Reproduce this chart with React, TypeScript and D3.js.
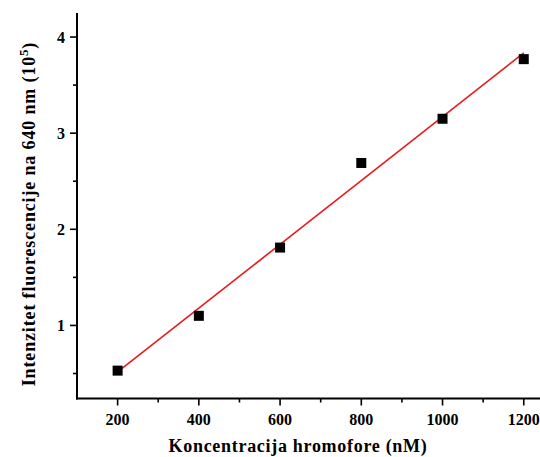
import React from "react";
import * as d3 from "d3";

const concentrations = [200, 400, 600, 800, 1000, 1200];
const intensities = [0.53, 1.1, 1.81, 2.69, 3.15, 3.77];
const xTicks = [200, 400, 600, 800, 1000, 1200];
const xMinorTicks = [300, 500, 700, 900, 1100];
const yTicks = [1, 2, 3, 4];
const yMinorTicks = [0.5, 1.5, 2.5, 3.5];

const W = 540;
const H = 457;
const FONT = "'Liberation Serif', 'Times New Roman', serif";

export default function App() {
  const x = d3.scaleLinear().domain([100, 1240]).range([77, 540]);
  const y = d3.scaleLinear().domain([0.24, 4.25]).range([398.5, 13]);

  const n = concentrations.length;
  const mx = d3.mean(concentrations)!;
  const my = d3.mean(intensities)!;
  let sxy = 0, sxx = 0;
  for (let i = 0; i < n; i++) {
    sxy += (concentrations[i] - mx) * (intensities[i] - my);
    sxx += (concentrations[i] - mx) ** 2;
  }
  const slope = sxy / sxx;
  const intercept = my - slope * mx;
  const fitX = [concentrations[0], concentrations[n - 1]];
  const line = d3
    .line<number>()
    .x((d) => x(d))
    .y((d) => y(intercept + slope * d));

  const axisY = y.range()[0];
  const axisX = x.range()[0];
  const sq = 10;

  return (
    <svg width={W} height={H} style={{ position: "absolute", left: 0, top: 0, background: "#fff" }}>
      <rect width={W} height={H} fill="#fff" />
      {/* fit line */}
      <path d={line(fitX) || ""} stroke="#e8191a" strokeWidth={1.6} fill="none" />
      {/* points */}
      {concentrations.map((c, i) => (
        <rect
          key={c}
          x={x(c) - sq / 2}
          y={y(intensities[i]) - sq / 2}
          width={sq}
          height={sq}
          fill="#000"
        />
      ))}
      {/* axes lines */}
      <line x1={axisX} x2={axisX} y1={y.range()[1]} y2={axisY + 1} stroke="#000" strokeWidth={2} />
      <line x1={axisX - 1} x2={W} y1={axisY} y2={axisY} stroke="#000" strokeWidth={2} />
      {/* y ticks */}
      {yTicks.map((t) => (
        <g key={"yt" + t}>
          <line x1={axisX - 7} x2={axisX} y1={y(t)} y2={y(t)} stroke="#000" strokeWidth={1.6} />
          <text
            x={axisX - 12}
            y={y(t)}
            dy="0.35em"
            textAnchor="end"
            fontFamily={FONT}
            fontWeight="bold"
            fontSize={16}
            fill="#000"
          >
            {t}
          </text>
        </g>
      ))}
      {yMinorTicks.map((t) => (
        <line key={"ym" + t} x1={axisX - 4} x2={axisX} y1={y(t)} y2={y(t)} stroke="#000" strokeWidth={1.6} />
      ))}
      {/* x ticks */}
      {xTicks.map((t) => (
        <g key={"xt" + t}>
          <line x1={x(t)} x2={x(t)} y1={axisY} y2={axisY + 7} stroke="#000" strokeWidth={1.6} />
          <text
            x={x(t)}
            y={425}
            textAnchor="middle"
            fontFamily={FONT}
            fontWeight="bold"
            fontSize={16}
            fill="#000"
          >
            {t}
          </text>
        </g>
      ))}
      {xMinorTicks.map((t) => (
        <line key={"xm" + t} x1={x(t)} x2={x(t)} y1={axisY} y2={axisY + 4} stroke="#000" strokeWidth={1.6} />
      ))}
      {/* axis titles */}
      <text
        x={298}
        y={452}
        textAnchor="middle"
        fontFamily={FONT}
        fontWeight="bold"
        fontSize={18}
        letterSpacing={0.7}
        fill="#000"
      >
        Koncentracija hromofore (nM)
      </text>
      <text
        transform={`translate(35, 214) rotate(-90)`}
        textAnchor="middle"
        fontFamily={FONT}
        fontWeight="bold"
        fontSize={18}
        letterSpacing={0.85}
        fill="#000"
      >
        Intenzitet fluorescencije na 640 nm (10
        <tspan baselineShift="super" fontSize={13}>5</tspan>)
      </text>
    </svg>
  );
}
